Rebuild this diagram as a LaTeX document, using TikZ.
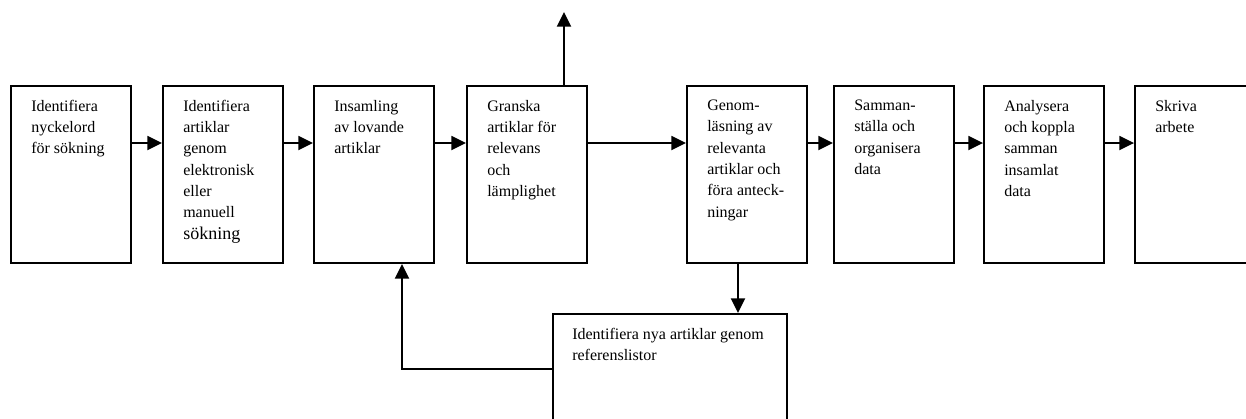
\documentclass[tikz,border=0pt]{standalone}
\usepackage{fontspec}
\setmainfont{Liberation Serif}
\usetikzlibrary{arrows.meta}

\begin{document}
\begin{tikzpicture}[x=0.75pt, y=-0.75pt,
    box/.style={draw, line width=1.5pt, minimum width=90pt, minimum height=132.75pt, anchor=north west, inner sep=0pt},
    txt/.style={anchor=north west, align=left, inner sep=0pt, xshift=15.75pt, yshift=-11pt, font=\fontsize{12}{16}\selectfont},
    arr/.style={line width=1.5pt, -{Triangle[length=11pt, width=10.5pt]}}]
    \useasboundingbox (0,0) rectangle (1246,418);
    \clip (0,0) rectangle (1246,418);

    % rutorna
    \node[box, label={[txt]north west:{Identifiera\\nyckelord\\för sökning}}] (nyckel) at (10,85) {};
    \node[box, label={[txt]north west:{Identifiera\\artiklar\\genom\\elektronisk\\eller\\manuell\\{\fontsize{13.5}{16}\selectfont sökning}}}] (sokning) at (162,85) {};
    \node[box, label={[txt]north west:{Insamling\\av lovande\\artiklar}}] (insamling) at (313,85) {};
    \node[box, label={[txt]north west:{Granska\\artiklar för\\relevans\\och\\lämplighet}}] (granska) at (466,85) {};
    \node[box, label={[txt]north west:{Genom-\\läsning av\\relevanta\\artiklar och\\föra anteck-\\ningar}}] (genom) at (686,85) {};
    \node[box, label={[txt]north west:{Samman-\\ställa och\\organisera\\data}}] (samman) at (833,85) {};
    \node[box, label={[txt]north west:{Analysera\\och koppla\\samman\\insamlat\\data}}] (analys) at (983,85) {};
    \node[box, label={[txt]north west:{Skriva\\arbete}}] (skriva) at (1134,85) {};
    \node[box, minimum width=175.5pt, minimum height=82.5pt, label={[txt, xshift=-0.75pt]north west:{Identifiera nya artiklar genom\\referenslistor}}] (referens) at (552,313) {};

    % fria ändar
    \coordinate (ut) at (564,12);
    \coordinate (ner) at (738,313);
    \coordinate (upp) at (402,0);

    % pilarna
    \draw[arr] ([yshift=23.6pt]nyckel.east) -- ([yshift=23.6pt]sokning.west);
    \draw[arr] ([yshift=23.6pt]sokning.east) -- ([yshift=23.6pt]insamling.west);
    \draw[arr] ([yshift=23.6pt]insamling.east) -- ([yshift=23.6pt]granska.west);
    \draw[arr] ([yshift=23.6pt]granska.east) -- ([yshift=23.6pt]genom.west);
    \draw[arr] ([yshift=23.6pt]genom.east) -- ([yshift=23.6pt]samman.west);
    \draw[arr] ([yshift=23.6pt]samman.east) -- ([yshift=23.6pt]analys.west);
    \draw[arr] ([yshift=23.6pt]analys.east) -- ([yshift=23.6pt]skriva.west);
    \draw[arr] (granska.north -| ut) -- (ut);
    \draw[arr] (genom.south -| ner) -- (ner);
    \draw[arr] (referens.west) -| (insamling.south -| upp);

  \end{tikzpicture}
\end{document}
